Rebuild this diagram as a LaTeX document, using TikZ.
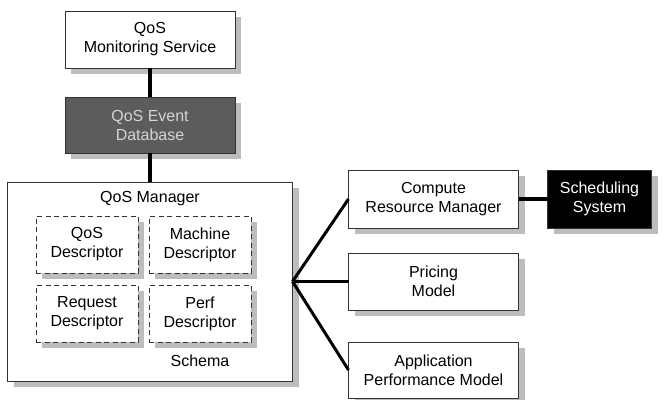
\documentclass[tikz,border=0pt]{standalone}
\usepackage{fontspec}
\setmainfont{Liberation Sans}
\usetikzlibrary{positioning}
\definecolor{cShadow}{HTML}{BDBDBD}
\definecolor{cDb}{HTML}{5C5C5C}
\definecolor{cDbText}{HTML}{D4D4D4}

\begin{document}
\begin{tikzpicture}[
    x=1pt, y=-1pt,
    every node/.style={font=\fontsize{16}{19}\selectfont, align=center, outer sep=0pt},
    box/.style={rectangle, draw=black!80, line width=0.8pt, fill=white, minimum width=170pt, minimum height=57pt},
    desc/.style={rectangle, draw=black!80, dashed, dash pattern=on 5pt off 3.5pt, line width=0.8pt, fill=white, minimum width=102pt, minimum height=57pt},
    shadowbox/.style={fill=cShadow},
    link/.style={line width=3.5pt},
    fan/.style={line width=3pt}
]
\useasboundingbox (0,0) rectangle (666,399);

% shadows of the outer boxes
\fill[shadowbox] (71,17) rectangle (241,74);
\fill[shadowbox] (71,103) rectangle (241,159);
\fill[shadowbox] (13.5,188) rectangle (298.5,387);
\fill[shadowbox] (354.5,176) rectangle (524.5,234);
\fill[shadowbox] (354.5,259) rectangle (524.5,316);
\fill[shadowbox] (354.5,348) rectangle (524.5,404);
\fill[shadowbox] (553.5,176) rectangle (657.5,234);

\node[box] (mon) at (150,39.5) {QoS\\Monitoring Service};
\node[box, fill=cDb, text=cDbText, minimum height=56pt, below=29pt of mon] (db) {QoS Event\\Database};
\node[box, minimum width=285pt, minimum height=199pt, below=29pt of db] (mgr) {};

% shadows of the descriptors
\fill[shadowbox] (42,222) rectangle (144,279);
\fill[shadowbox] (155,222) rectangle (257,279);
\fill[shadowbox] (42,291) rectangle (144,348);
\fill[shadowbox] (155,291) rectangle (257,348);

\node (mgrt) at (150,199) {QoS Manager};
\node[desc] (qd) at (87,244.5) {QoS\\Descriptor};
\node[desc, right=11pt of qd] (md) {Machine\\Descriptor};
\node[desc, below=12pt of qd] (rd) {Request\\Descriptor};
\node[desc, right=11pt of rd] (pd) {Perf\\Descriptor};
\node (schema) at (200,361) {Schema};

\node[box, minimum height=57pt, right=56pt of mgr] (pri) {Pricing\\Model};
\node[box, minimum height=58pt, above=25pt of pri] (cmp) {Compute\\Resource Manager};
\node[box, minimum height=56pt, below=32pt of pri] (app) {Application\\Performance Model};
\node[box, fill=black, text=white, minimum width=104pt, minimum height=58pt, right=29pt of cmp] (sch) {Scheduling\\System};

\draw[link] (mon) -- (db);
\draw[link] (db) -- (mgr);
\draw[link] (cmp) -- (sch);
\foreach \n in {cmp,pri,app} {
  \draw[fan] (mgr.east) -- (\n.west);
}
\end{tikzpicture}
\end{document}
